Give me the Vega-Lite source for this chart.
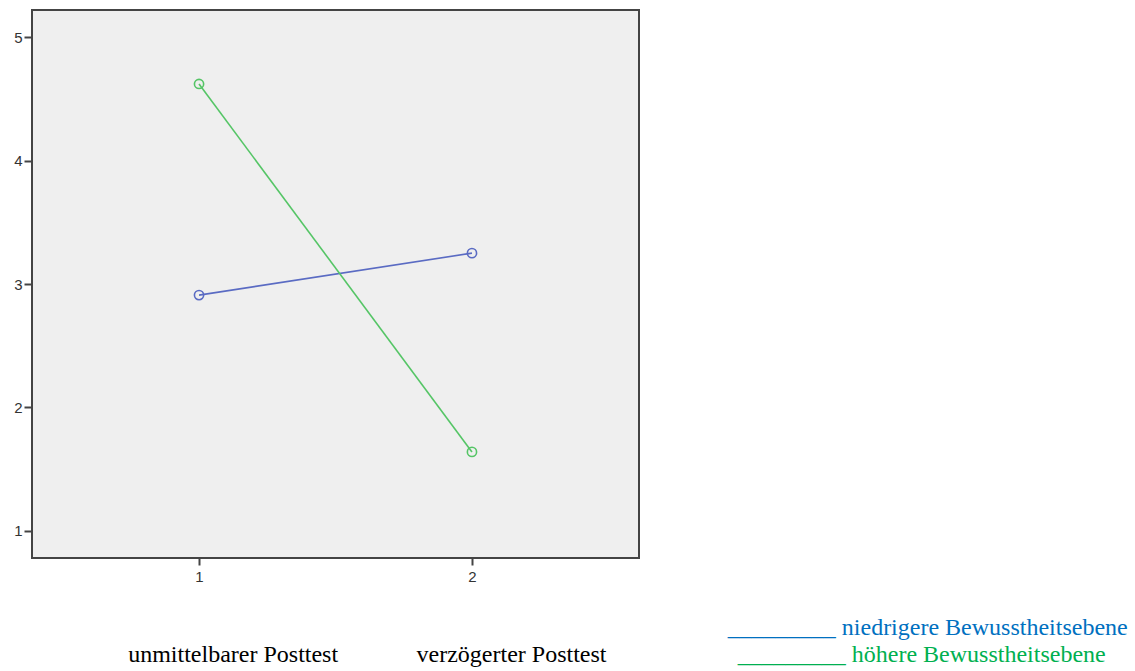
{
  "$schema": "https://vega.github.io/schema/vega-lite/v6.json",
  "autosize": "none",
  "padding": {"left": 32, "top": 10, "right": 496, "bottom": 113},
  "width": 607,
  "height": 548,
  "background": "white",
  "config": {
    "view": {"fill": "#efefef", "stroke": "#444444", "strokeWidth": 2}
  },
  "datasets": {
    "means": [
      {"test": 1, "mean": 2.91, "group": "niedrigere Bewusstheitsebene"},
      {"test": 2, "mean": 3.25, "group": "niedrigere Bewusstheitsebene"},
      {"test": 1, "mean": 4.62, "group": "höhere Bewusstheitsebene"},
      {"test": 2, "mean": 1.64, "group": "höhere Bewusstheitsebene"}
    ],
    "labels": [
      {"x": 1.125, "y": -0.005, "label": "unmittelbarer Posttest"},
      {"x": 2.145, "y": -0.005, "label": "verzögerter Posttest"}
    ],
    "legend": [
      {"x": 3.67, "y": 0.215, "label": "_________ niedrigere Bewusstheitsebene", "group": "niedrigere Bewusstheitsebene"},
      {"x": 3.648, "y": -0.005, "label": "_________ höhere Bewusstheitsebene", "group": "höhere Bewusstheitsebene"}
    ]
  },
  "layer": [
    {
      "data": {"name": "means"},
      "mark": {"type": "line", "strokeWidth": 1.6},
      "encoding": {
        "x": {
          "field": "test", "type": "quantitative",
          "scale": {"domain": [0.388, 2.612], "nice": false, "zero": false},
          "axis": {"values": [1, 2], "title": null, "grid": false, "domain": false, "tickColor": "#444444", "tickWidth": 2, "tickSize": 7, "labelFont": "Liberation Sans", "labelFontSize": 15, "labelColor": "#333333", "labelPadding": 4, "format": "d"}
        },
        "y": {
          "field": "mean", "type": "quantitative",
          "scale": {"domain": [0.781, 5.219], "nice": false, "zero": false},
          "axis": {"values": [1, 2, 3, 4, 5], "title": null, "grid": false, "domain": false, "tickColor": "#444444", "tickWidth": 2, "tickSize": 8, "labelFont": "Liberation Sans", "labelFontSize": 15, "labelColor": "#333333", "labelPadding": 2, "format": "d"}
        },
        "color": {
          "field": "group", "type": "nominal", "legend": null,
          "scale": {"domain": ["niedrigere Bewusstheitsebene", "höhere Bewusstheitsebene"], "range": ["#5a6bc3", "#55c566"]}
        },
        "detail": {"field": "group"}
      }
    },
    {
      "data": {"name": "means"},
      "mark": {"type": "point", "filled": false, "size": 85, "strokeWidth": 1.6, "opacity": 1},
      "encoding": {
        "x": {"field": "test", "type": "quantitative"},
        "y": {"field": "mean", "type": "quantitative"},
        "color": {"field": "group", "type": "nominal", "legend": null}
      }
    },
    {
      "data": {"name": "labels"},
      "mark": {"type": "text", "font": "Liberation Serif", "fontSize": 24, "color": "#000000", "align": "center", "baseline": "middle"},
      "encoding": {
        "x": {"field": "x", "type": "quantitative"},
        "y": {"field": "y", "type": "quantitative"},
        "text": {"field": "label"}
      }
    },
    {
      "data": {"name": "legend"},
      "transform": [{"filter": "datum.group === 'niedrigere Bewusstheitsebene'"}],
      "mark": {"type": "text", "font": "Liberation Serif", "fontSize": 24, "color": "#0070c0", "align": "center", "baseline": "middle"},
      "encoding": {
        "x": {"field": "x", "type": "quantitative"},
        "y": {"field": "y", "type": "quantitative"},
        "text": {"field": "label"}
      }
    },
    {
      "data": {"name": "legend"},
      "transform": [{"filter": "datum.group === 'höhere Bewusstheitsebene'"}],
      "mark": {"type": "text", "font": "Liberation Serif", "fontSize": 24, "color": "#00b050", "align": "center", "baseline": "middle"},
      "encoding": {
        "x": {"field": "x", "type": "quantitative"},
        "y": {"field": "y", "type": "quantitative"},
        "text": {"field": "label"}
      }
    }
  ]
}
